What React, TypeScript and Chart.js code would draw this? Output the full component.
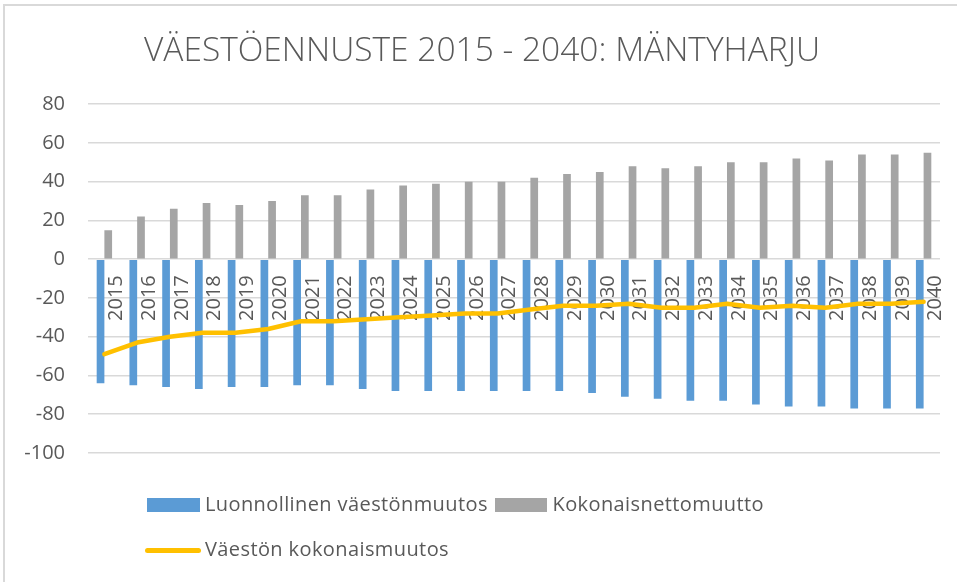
import React, { useEffect, useRef } from 'react';
import { Chart, registerables } from 'chart.js';

Chart.register(...registerables);

const years = ['2015','2016','2017','2018','2019','2020','2021','2022','2023','2024','2025','2026','2027','2028','2029','2030','2031','2032','2033','2034','2035','2036','2037','2038','2039','2040'];
const luonnollinen = [-64,-65,-66,-67,-66,-66,-65,-65,-67,-68,-68,-68,-68,-68,-68,-69,-71,-72,-73,-73,-75,-76,-76,-77,-77,-77];
const nettomuutto = [15,22,26,29,28,30,33,33,36,38,39,40,40,42,44,45,48,47,48,50,50,52,51,54,54,55];
const kokonaismuutos = [-49,-43,-40,-38,-38,-36,-32,-32,-31,-30,-29,-28,-28,-26,-24,-24,-23,-25,-25,-23,-25,-24,-25,-23,-23,-22];
const yMin = -100;
const yMax = 80;
const yStep = 20;

const titleText = 'VÄESTÖENNUSTE 2015 - 2040: MÄNTYHARJU';
const labelLuonnollinen = 'Luonnollinen väestönmuutos';
const labelNetto = 'Kokonaisnettomuutto';
const labelKokonais = 'Väestön kokonaismuutos';

const FONT = "'Open Sans', 'Liberation Sans', sans-serif";
const TEXT = '#595959';
const BLUE = '#5B9BD5';
const GRAY = '#A5A5A5';
const GOLD = '#FFC000';

export default function App() {
  const ref = useRef<HTMLCanvasElement | null>(null);

  useEffect(() => {
    if (!ref.current) return;
    const chart = new Chart(ref.current, {
      type: 'bar',
      data: {
        labels: years,
        datasets: [
          {
            type: 'line',
            label: labelKokonais,
            data: kokonaismuutos,
            borderColor: GOLD,
            backgroundColor: GOLD,
            borderWidth: 4.5,
            pointRadius: 0,
            tension: 0,
            borderJoinStyle: 'round',
            borderCapStyle: 'round',
            order: 0,
          } as any,
          {
            type: 'bar',
            label: labelLuonnollinen,
            data: luonnollinen,
            backgroundColor: BLUE,
            borderWidth: 0,
            categoryPercentage: 0.47,
            barPercentage: 1,
            order: 1,
          },
          {
            type: 'bar',
            label: labelNetto,
            data: nettomuutto,
            backgroundColor: GRAY,
            borderWidth: 0,
            categoryPercentage: 0.47,
            barPercentage: 1,
            order: 1,
          },
        ],
      },
      options: {
        responsive: true,
        maintainAspectRatio: false,
        animation: false,
        layout: { padding: { left: 24, right: 17, top: 0, bottom: 129 } },
        plugins: {
          legend: { display: false },
          tooltip: { enabled: false },
          title: {
            display: true,
            text: titleText,
            color: TEXT,
            font: { family: FONT, size: 33.5, weight: 300 as any },
            padding: { top: 31, bottom: 33 },
          },
        },
        scales: {
          x: {
            position: { y: 0 } as any,
            grid: { display: false, drawTicks: false },
            border: { display: false },
            z: 1,
            afterFit: (scale: any) => {
              scale.paddingLeft = 0;
              scale.paddingRight = 0;
            },
            ticks: {
              minRotation: 90,
              maxRotation: 90,
              autoSkip: false,
              padding: 16,
              labelOffset: 12,
              color: TEXT,
              font: { family: FONT, size: 20 },
            },
          },
          y: {
            min: yMin,
            max: yMax,
            afterFit: (scale: any) => {
              scale.width = 64;
            },
            ticks: {
              stepSize: yStep,
              padding: 23,
              color: TEXT,
              font: { family: FONT, size: 20 },
            },
            grid: { color: '#D9D9D9', lineWidth: 1.5, drawTicks: false },
            border: { display: false },
          },
        },
      },
    });
    return () => chart.destroy();
  }, []);

  const textStyle: React.CSSProperties = {
    position: 'absolute',
    fontFamily: FONT,
    fontSize: 20,
    lineHeight: '20px',
    letterSpacing: '0.4px',
    color: TEXT,
    whiteSpace: 'nowrap',
  };

  return (
    <div style={{ position: 'absolute', left: 0, top: 0, width: 957, height: 582, overflow: 'hidden', background: '#fff' }}>
      <div style={{ position: 'absolute', left: 3, top: 4, width: 1000, height: 700, borderTop: '2px solid #D9D9D9', borderLeft: '2px solid #D9D9D9' }} />
      <div style={{ position: 'absolute', left: 0, top: 0, width: 957, height: 582 }}>
        <canvas ref={ref} />
      </div>
      <div style={{ position: 'absolute', left: 147, top: 497.5, width: 53, height: 14, background: BLUE }} />
      <div style={{ ...textStyle, left: 205, top: 494 }}>{labelLuonnollinen}</div>
      <div style={{ position: 'absolute', left: 494.5, top: 497.5, width: 52, height: 14, background: GRAY }} />
      <div style={{ ...textStyle, left: 552.5, top: 494 }}>{labelNetto}</div>
      <div style={{ position: 'absolute', left: 145, top: 547.5, width: 56, height: 5, borderRadius: 2.5, background: GOLD }} />
      <div style={{ ...textStyle, left: 205, top: 539 }}>{labelKokonais}</div>
    </div>
  );
}
